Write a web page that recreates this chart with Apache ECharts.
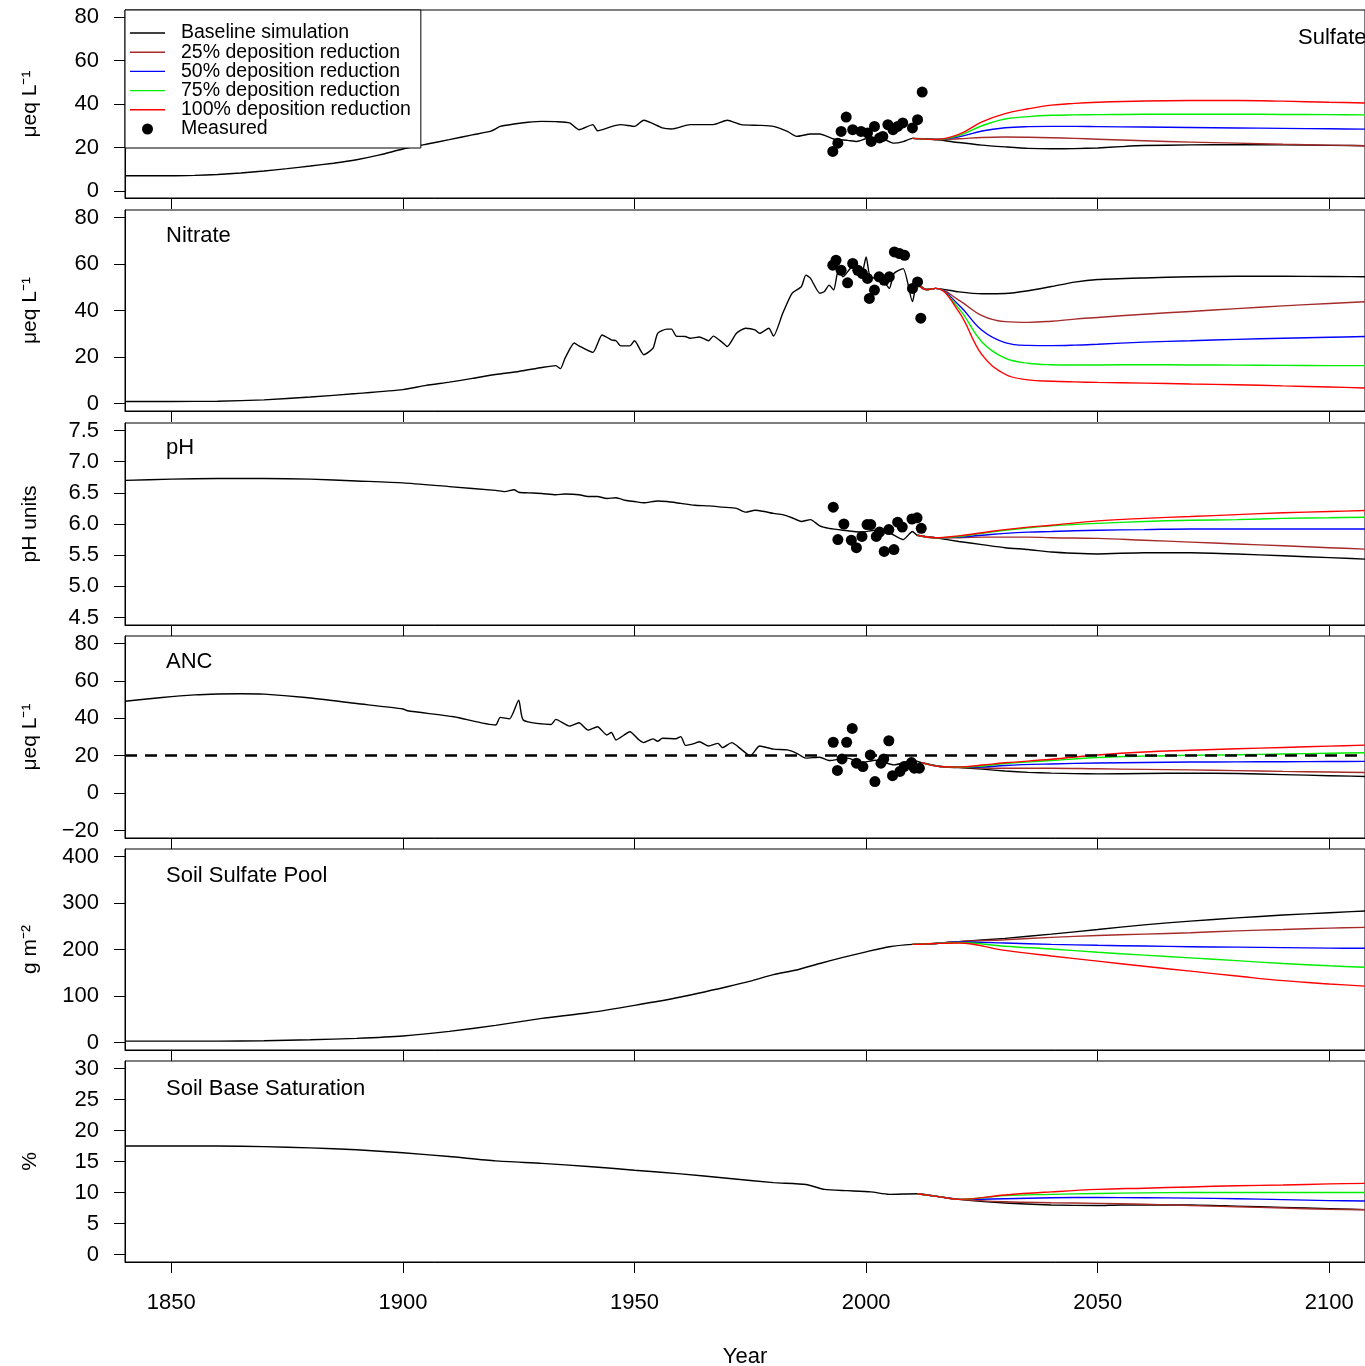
<!DOCTYPE html>
<html><head><meta charset="utf-8">
<script src="https://cdn.jsdelivr.net/npm/echarts@6/dist/echarts.min.js"></script>
<style>html,body{margin:0;padding:0;background:#fff}#c{width:1365px;height:1366px}</style>
</head><body><div id="c"></div><script>
// ---------------- DATA ----------------
const SERIES_NAMES = ['Baseline simulation','25% deposition reduction','50% deposition reduction','75% deposition reduction','100% deposition reduction','Measured'];
const X_TICKS = [1850,1900,1950,2000,2050,2100];
const PANEL_LABELS = ['Sulfate','Nitrate','pH','ANC','Soil Sulfate Pool','Soil Base Saturation'];
const Y_NAMES = ['μeq L⁻¹','μeq L⁻¹','pH units','μeq L⁻¹','g m⁻²','%'];
const Y_TICKS = [[0,20,40,60,80],[0,20,40,60,80],[4.5,5,5.5,6,6.5,7,7.5],[-20,0,20,40,60,80],[0,100,200,300,400],[0,5,10,15,20,25,30]];
const ANC_THRESHOLD = 20;

// Sulfate
const sulfBaseYears = [1840,1845,1850,1855,1860,1865,1870,1875,1880,1885,1890,1895,1900,1905,1910,1915,1919,1921,1924,1927,1930,1933,1936,1938,1941,1942,1945,1947,1950,1952,1956,1958,1962,1967,1970,1973,1977,1980,1983,1985,1988,1990,1993,1996,1998,2000,2003,2006,2008,2010,2015,2020,2025,2030,2035,2040,2045,2050,2055,2060,2070,2080,2090,2100,2110];
const sulfBaseVals = [7.0,7.0,7.0,7.2,7.6,8.3,9.2,10.3,11.5,12.8,14.4,16.6,19.3,21.5,23.6,25.8,27.5,29.7,30.8,31.6,32.0,31.9,31.3,28.2,30.5,27.7,29.6,30.5,29.7,32.5,29.0,28.5,30.5,30.5,32.5,30.5,30.2,29.7,27.4,25.1,26.2,26.2,23.9,23.3,22.8,24.0,24.4,22.0,22.7,24.2,23.7,22.3,21.1,20.3,19.6,19.4,19.5,19.8,20.4,20.9,21.2,21.3,21.2,21.0,20.8];
const sulfScenYears = [2010,2015,2020,2025,2030,2035,2040,2045,2050,2060,2070,2080,2090,2100,2110];
const sulf25 = [24.2,23.7,24.0,24.6,24.8,24.7,24.5,24.2,23.8,23.1,22.5,22.0,21.5,21.1,20.7];
const sulf50 = [24.2,23.7,24.9,27.6,29.1,29.6,29.7,29.7,29.6,29.4,29.2,29.0,28.8,28.6,28.4];
const sulf75 = [24.2,23.7,25.5,30.0,33.1,34.2,34.8,35.0,35.1,35.3,35.3,35.3,35.2,35.1,35.0];
const sulf100 = [24.2,23.7,26.0,31.8,35.6,37.8,39.5,40.3,40.8,41.4,41.6,41.6,41.3,40.8,40.4];
const sulfMeasYears = [1992.8,1993.9,1994.6,1995.7,1997.1,1998.9,2000.3,2001.1,2001.8,2002.9,2003.6,2004.7,2005.8,2006.8,2007.9,2010.0,2011.1,2012.1];
const sulfMeasVals = [18.2,22.0,27.4,34.0,28.2,27.4,26.7,22.8,29.7,24.4,25.1,30.5,28.2,29.7,31.3,29.0,32.8,45.5];

// Nitrate
const nitrBaseYears = [1840,1850,1860,1870,1880,1890,1900,1905,1910,1915,1920,1925,1930,1933,1934,1935,1937,1938,1941,1943,1945,1946,1947,1949,1950,1952,1954,1955,1957,1958,1959,1961,1962,1964,1966,1967,1969,1970,1972,1974,1976,1977,1979,1980,1982,1984,1986,1987,1988,1990,1991,1992,1993,1994,1995,1997,1999,2000,2001,2003,2005,2006,2008,2010,2011,2013,2015,2020,2025,2030,2035,2040,2045,2050,2060,2070,2080,2090,2100,2110];
const nitrBaseVals = [0.9,0.9,1.0,1.6,2.8,4.3,6.0,7.8,9.2,10.8,12.5,13.8,15.5,16.3,15.0,19.5,26.0,24.8,22.0,29.5,27.4,27.0,24.8,24.8,27.0,21.0,23.8,30.2,32.0,32.0,29.0,28.8,28.1,28.6,27.0,29.0,26.2,24.5,30.2,32.4,31.7,30.2,32.4,29.0,38.8,47.4,50.2,55.2,53.8,47.4,48.2,50.9,48.8,57.3,54.5,58.7,55.9,63.0,53.8,54.5,49.5,55.9,58.0,43.8,51.6,49.0,49.5,48.0,47.2,47.3,48.5,50.3,52.2,53.3,54.0,54.5,54.7,54.7,54.6,54.5];
const nitrScenYears = [2011,2013,2015,2020,2025,2030,2035,2040,2045,2050,2060,2070,2080,2090,2100,2110];
const nitr25 = [51.6,49.0,49.5,44.5,37.8,35.2,34.9,35.4,36.3,37.0,38.4,39.6,40.8,42.0,43.0,44.0];
const nitr50 = [51.6,49.0,49.5,42.4,31.5,26.2,25.0,24.9,25.1,25.5,26.4,27.0,27.6,28.1,28.5,28.9];
const nitr75 = [51.6,49.0,49.5,40.9,26.5,19.5,17.3,16.7,16.6,16.6,16.7,16.6,16.5,16.4,16.3,16.3];
const nitr100 = [51.6,49.0,49.5,39.5,21.0,12.6,10.2,9.6,9.3,9.1,8.8,8.4,8.1,7.6,7.1,6.6];
const nitrMeasYears = [1992.8,1993.5,1994.6,1996.0,1997.1,1998.2,1999.2,2000.3,2000.7,2001.8,2002.8,2003.9,2005.0,2006.1,2007.2,2008.3,2010.0,2011.1,2011.8];
const nitrMeasVals = [59.5,61.6,57.3,51.9,60.2,57.3,55.9,53.8,45.2,48.8,54.5,53.0,54.5,65.2,64.5,63.7,49.5,52.3,36.7];

// pH
const phBaseYears = [1840,1850,1860,1870,1880,1890,1900,1910,1920,1922,1924,1925,1927,1930,1933,1935,1938,1940,1942,1944,1946,1948,1950,1952,1955,1957,1960,1963,1966,1969,1972,1974,1976,1978,1980,1982,1984,1986,1988,1990,1992,1995,1999,2002,2005,2008,2010,2011,2015,2020,2025,2030,2035,2040,2045,2050,2060,2070,2080,2090,2100,2110];
const phBaseVals = [6.70,6.72,6.73,6.73,6.72,6.69,6.66,6.60,6.54,6.52,6.55,6.51,6.50,6.49,6.47,6.48,6.47,6.44,6.44,6.41,6.42,6.38,6.36,6.34,6.37,6.36,6.33,6.30,6.29,6.27,6.25,6.19,6.22,6.20,6.17,6.15,6.10,6.04,6.07,5.97,5.93,5.90,5.87,5.90,5.86,5.75,5.88,5.82,5.78,5.72,5.67,5.62,5.59,5.55,5.53,5.52,5.54,5.54,5.52,5.49,5.46,5.43];
const phScenYears = [2011,2015,2020,2025,2030,2035,2040,2050,2060,2070,2080,2090,2100,2110];
const ph25 = [5.82,5.78,5.78,5.79,5.79,5.79,5.78,5.77,5.74,5.71,5.68,5.65,5.62,5.59];
const ph50 = [5.82,5.78,5.79,5.82,5.85,5.87,5.88,5.90,5.91,5.92,5.92,5.92,5.92,5.92];
const ph75 = [5.82,5.78,5.80,5.85,5.90,5.94,5.97,6.01,6.04,6.06,6.07,6.09,6.10,6.11];
const ph100 = [5.82,5.78,5.81,5.86,5.91,5.95,5.98,6.05,6.09,6.12,6.15,6.18,6.20,6.22];
const phMeasYears = [1992.9,1993.9,1995.2,1996.8,1997.9,1999.1,2000.2,2001.0,2002.2,2002.9,2003.9,2004.9,2006.0,2006.8,2007.8,2009.9,2011.0,2011.9];
const phMeasVals = [6.27,5.75,6.00,5.74,5.62,5.80,5.99,5.99,5.80,5.87,5.56,5.91,5.59,6.03,5.95,6.08,6.10,5.93];

// ANC
const ancBaseYears = [1840,1848,1855,1860,1865,1870,1879,1890,1900,1901,1911,1920,1921,1923,1925,1926,1932,1933,1936,1938,1940,1942,1944,1945,1946,1947,1949,1951,1952,1954,1955,1956,1959,1960,1961,1963,1964,1966,1968,1969,1971,1973,1975,1977,1980,1983,1985,1987,1990,1992,1996,1999,2002,2006,2010,2012,2016,2020,2025,2030,2035,2040,2045,2050,2060,2070,2080,2090,2100,2110];
const ancBaseVals = [49.1,51.1,52.5,53.0,53.1,52.9,51.1,47.9,45.0,44.0,40.8,36.4,40.5,39.7,49.7,39.0,36.7,39.4,35.8,37.6,33.7,35.5,31.1,32.4,28.4,29.8,32.8,28.4,27.0,29.0,27.7,29.3,29.1,30.2,25.5,26.6,27.5,25.2,26.6,24.3,27.0,23.5,19.9,25.2,23.5,23.1,21.3,18.7,19.2,17.4,18.7,16.3,17.6,15.1,17.4,16.3,14.2,13.6,12.8,11.8,11.1,10.7,10.4,10.3,10.5,10.7,10.5,9.9,9.3,8.8];
const ancScenYears = [2012,2016,2020,2025,2030,2040,2050,2060,2070,2080,2090,2100,2110];
const anc25 = [16.3,14.2,13.8,13.4,13.3,13.3,13.0,12.7,12.4,12.0,11.6,11.3,10.9];
const anc50 = [16.3,14.2,13.8,13.9,14.8,15.6,16.1,16.4,16.6,16.7,16.8,16.9,17.0];
const anc75 = [16.3,14.2,13.8,14.5,15.8,17.4,19.0,19.8,20.2,20.5,20.9,21.3,21.7];
const anc100 = [16.3,14.2,13.9,15.0,16.2,18.1,20.4,22.0,22.9,23.7,24.4,25.1,25.8];
const ancMeasYears = [1992.9,1993.8,1994.8,1995.8,1997.0,1997.9,1999.3,2000.9,2001.9,2003.2,2003.8,2004.9,2005.7,2007.3,2008.2,2009.8,2010.4,2011.5];
const ancMeasVals = [27.2,12.1,18.3,27.2,34.6,16.0,14.2,20.4,6.2,16.0,18.3,28.0,9.3,11.6,14.2,16.3,13.3,13.3];

// Soil sulfate pool
const sspBaseYears = [1840,1850,1860,1870,1880,1890,1900,1910,1920,1930,1940,1950,1960,1970,1975,1980,1985,1990,1995,2000,2005,2010,2015,2020,2030,2040,2050,2060,2070,2080,2090,2100,2110];
const sspBaseVals = [3,3,3,4,6,9,14,24,37,52,64,80,98,120,132,146,156,170,183,195,206,211,213,217,224,233,243,253,261,268,274,279,284];
const sspScenYears = [2010,2015,2020,2030,2040,2050,2060,2070,2080,2090,2100,2110];
const ssp25 = [211,213,217,221,226,230,233,236,240,243,246,248];
const ssp50 = [211,213,216,214,211,209,207.5,206,205,204,203,202.5];
const ssp75 = [211,213,215,207,201,194,188,182,176,170,165,161];
const ssp100 = [211,213,214,198,186,175,164,153.5,143,133,126,120];

// Soil base saturation
const bsBaseYears = [1840,1850,1860,1870,1880,1890,1900,1910,1920,1930,1940,1950,1960,1970,1980,1987,1991,1996,2001,2005,2011,2016,2020,2030,2040,2050,2055,2070,2080,2090,2100,2110];
const bsBaseVals = [17.5,17.5,17.5,17.4,17.2,16.9,16.4,15.8,15.1,14.7,14.2,13.6,13.0,12.3,11.6,11.3,10.5,10.3,10.1,9.7,9.8,9.3,8.9,8.3,8.0,7.9,8.0,8.0,7.8,7.6,7.4,7.2];
const bsScenYears = [2011,2016,2020,2030,2040,2050,2060,2070,2080,2090,2100,2110];
const bs25 = [9.8,9.3,8.9,8.5,8.35,8.25,8.1,7.9,7.7,7.5,7.3,7.2];
const bs50 = [9.8,9.3,8.9,9.0,9.15,9.2,9.15,9.1,9.0,8.85,8.7,8.6];
const bs75 = [9.8,9.3,8.9,9.5,9.7,9.85,9.95,10.0,10.0,10.0,10.0,10.0];
const bs100 = [9.8,9.3,8.9,9.6,10.1,10.5,10.7,10.9,11.1,11.2,11.4,11.5];

// ---------------- LAYOUT / STYLE ----------------
const FONT = '"Liberation Sans", Arial, Helvetica, sans-serif';
const COLORS = ['#000000','#a52a2a','#0000ff','#00ee00','#ff0000','#000000'];
const GRID_LEFT = 125, GRID_RIGHT = 0;
const X_MIN = 1840, X_MAX = 2107.7;   // visible part of the plot region (right side is cut off)
const GRID_TOPS = [10,210,423,636,849,1061];
const GRID_HEIGHTS = [188,201,202,202,201,201];
const Y_RANGES = [[-3.2,83.2],[-3.2,83.2],[4.38,7.62],[-24,84],[-16,416],[-1.2,31.2]];
const LABEL_POS = [[1298,38],[166,236],[166,448],[166,662],[166,876],[166,1089]];

const zip = (xs, ys) => xs.map((x, i) => [x, ys[i]]);

const PANELS = [
  {base:[sulfBaseYears,sulfBaseVals], scenYears:sulfScenYears, scen:[sulf25,sulf50,sulf75,sulf100], meas:[sulfMeasYears,sulfMeasVals]},
  {base:[nitrBaseYears,nitrBaseVals], scenYears:nitrScenYears, scen:[nitr25,nitr50,nitr75,nitr100], meas:[nitrMeasYears,nitrMeasVals]},
  {base:[phBaseYears,phBaseVals], scenYears:phScenYears, scen:[ph25,ph50,ph75,ph100], meas:[phMeasYears,phMeasVals]},
  {base:[ancBaseYears,ancBaseVals], scenYears:ancScenYears, scen:[anc25,anc50,anc75,anc100], meas:[ancMeasYears,ancMeasVals], threshold:ANC_THRESHOLD},
  {base:[sspBaseYears,sspBaseVals], scenYears:sspScenYears, scen:[ssp25,ssp50,ssp75,ssp100]},
  {base:[bsBaseYears,bsBaseVals], scenYears:bsScenYears, scen:[bs25,bs50,bs75,bs100]}
];

const grids = [], xAxes = [], yAxes = [], series = [], graphics = [];
const fmtY = (i) => (v) => {
  const s = (i === 2) ? Number(v).toFixed(1) : String(Math.abs(v));
  return v < 0 ? '\u2212' + s : s;
};

PANELS.forEach((p, i) => {
  grids.push({left: GRID_LEFT, right: GRID_RIGHT, top: GRID_TOPS[i], height: GRID_HEIGHTS[i],
    outerBoundsMode: 'none', containLabel: false,
    show: true, borderColor: '#000', borderWidth: 1, backgroundColor: 'transparent'});
  const last = i === PANELS.length - 1;
  xAxes.push({
    gridIndex: i, type: 'value', min: X_MIN, max: X_MAX,
    axisLine: {show: true, onZero: false, lineStyle: {color: '#000', width: 1}},
    axisTick: {show: true, inside: false, length: 11, customValues: X_TICKS, lineStyle: {color: '#000', width: 1}},
    axisLabel: {show: last, customValues: X_TICKS, formatter: (v) => String(v), fontSize: 22, fontFamily: FONT, color: '#000', margin: 30},
    splitLine: {show: false},
    name: last ? 'Year' : '', nameLocation: 'middle', nameGap: 84,
    nameTextStyle: {fontSize: 22, fontFamily: FONT, color: '#000'}
  });
  yAxes.push({
    gridIndex: i, type: 'value', min: Y_RANGES[i][0], max: Y_RANGES[i][1],
    axisLine: {show: true, lineStyle: {color: '#000', width: 1}},
    axisTick: {show: true, inside: false, length: 11, customValues: Y_TICKS[i], lineStyle: {color: '#000', width: 1}},
    axisLabel: {show: true, customValues: Y_TICKS[i], formatter: fmtY(i), fontSize: 22, fontFamily: FONT, color: '#000', margin: 26},
    splitLine: {show: false},
    name: Y_NAMES[i], nameLocation: 'middle', nameRotate: 90, nameGap: 84,
    nameTextStyle: {fontSize: 21, fontFamily: FONT, color: '#000'}
  });
  const base = {
    name: SERIES_NAMES[0], type: 'line', xAxisIndex: i, yAxisIndex: i,
    data: zip(p.base[0], p.base[1]), showSymbol: false, smooth: 0.2,
    lineStyle: {color: COLORS[0], width: 1.4}, itemStyle: {color: COLORS[0]}, z: 2
  };
  if (p.threshold !== undefined) {
    base.markLine = {silent: true, symbol: ['none','none'], label: {show: false},
      lineStyle: {color: '#000', type: [12, 8], width: 2.6}, data: [{yAxis: p.threshold}]};
  }
  series.push(base);
  p.scen.forEach((vals, k) => {
    series.push({
      name: SERIES_NAMES[k + 1], type: 'line', xAxisIndex: i, yAxisIndex: i,
      data: zip(p.scenYears, vals), showSymbol: false, smooth: 0.4,
      lineStyle: {color: COLORS[k + 1], width: 1.4}, itemStyle: {color: COLORS[k + 1]}, z: 2
    });
  });
  if (p.meas) {
    series.push({
      name: SERIES_NAMES[5], type: 'scatter', xAxisIndex: i, yAxisIndex: i,
      data: zip(p.meas[0], p.meas[1]), symbol: 'circle', symbolSize: 11,
      itemStyle: {color: COLORS[5], opacity: 1}, z: 3
    });
  }
  graphics.push({type: 'text', x: LABEL_POS[i][0], y: LABEL_POS[i][1], z: 10,
    style: {text: PANEL_LABELS[i], font: '22px ' + FONT, fill: '#000', verticalAlign: 'middle', align: 'left'}});
});

const LINE_ICON = 'path://M0,0H35V1.4H0Z';
const option = {
  animation: false,
  backgroundColor: '#fff',
  grid: grids, xAxis: xAxes, yAxis: yAxes, series: series, graphic: graphics,
  legend: {
    left: 125, top: 10, orient: 'vertical', itemWidth: 35, itemHeight: 11, itemGap: -0.8,
    padding: [13, 10, 9, 5], borderColor: '#000', borderWidth: 1, backgroundColor: '#fff',
    selectedMode: false, z: 20,
    itemStyle: {borderWidth: 0, opacity: 1},
    textStyle: {fontSize: 19.5, fontFamily: FONT, color: '#000', padding: [0, 0, 0, 11]},
    data: SERIES_NAMES.map((n, k) => ({name: n, icon: k === 5 ? 'circle' : LINE_ICON}))
  }
};
const chart = echarts.init(document.getElementById('c'), null, {renderer: 'canvas'});
chart.setOption(option);
</script></body></html>
